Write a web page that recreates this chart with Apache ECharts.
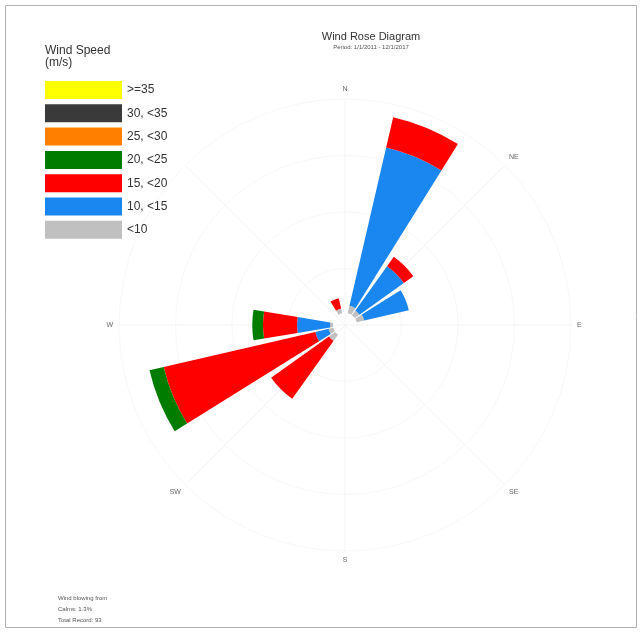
<!DOCTYPE html>
<html>
<head>
<meta charset="utf-8">
<title>Wind Rose Diagram</title>
<script src="https://cdn.jsdelivr.net/npm/echarts@6/dist/echarts.min.js"></script>
<style>
    html, body { margin: 0; padding: 0; background: #fff; }
    #chart { width: 642px; height: 635px; }
</style>
</head>
<body>
<div id="chart"></div>
<script>
// 16 directions, clockwise from north
var directions = ['N', 'NNE', 'NE', 'ENE', 'E', 'ESE', 'SE', 'SSE', 'S', 'SSW', 'SW', 'WSW', 'W', 'WNW', 'NW', 'NNW'];
// speed classes, inner to outer
var speedBins = ['<10', '10, <15', '15, <20', '20, <25', '25, <30', '30, <35', '>=35'];
var binColors = ['#c0c0c0', '#1a86f0', '#ff0000', '#007d00', '#ff8000', '#3a3a3a', '#ffff00'];
// frequency (%) per direction for each speed class
var speedLt10 = [0, 0.8, 0.6, 0.8, 0, 0, 0, 0, 0, 0, 0.8, 0.5, 0.3, 0, 0, 0.5];
var speed10to15 = [0, 16.7, 5.6, 4.7, 0, 0, 0, 0, 0, 0, 0, 1.4, 3.4, 0, 0, 0];
var speed15to20 = [0, 3.2, 1.2, 0, 0, 0, 0, 0, 0, 0, 7.3, 16.0, 3.5, 0, 0, 1.1];
var speed20to25 = [0, 0, 0, 0, 0, 0, 0, 0, 0, 0, 0, 1.5, 1.1, 0, 0, 0];
var speed25to30 = [0, 0, 0, 0, 0, 0, 0, 0, 0, 0, 0, 0, 0, 0, 0, 0];
var speed30to35 = [0, 0, 0, 0, 0, 0, 0, 0, 0, 0, 0, 0, 0, 0, 0, 0];
var speedGe35 = [0, 0, 0, 0, 0, 0, 0, 0, 0, 0, 0, 0, 0, 0, 0, 0];
var binData = [speedLt10, speed10to15, speed15to20, speed20to25, speed25to30, speed30to35, speedGe35];
// compass labels drawn round the rose (NW sits under the legend in the original)
var compassLabels = ['N', 'NE', 'E', 'SE', 'S', 'SW', 'W'];

var infoLines = ['Wind blowing from', 'Calms: 1.3%', 'Total Record: 93'];

var myChart = echarts.init(document.getElementById('chart'));

var series = [];
for (var i = 0; i < speedBins.length; i++) {
    series.push({
        name: speedBins[i],
        type: 'bar',
        coordinateSystem: 'polar',
        polarIndex: 0,
        stack: 'wind',
        barCategoryGap: '16%',
        itemStyle: { color: binColors[i] },
        data: binData[i],
        z: 5
    });
}
// empty series so the grid polar gets drawn
series.push({ type: 'scatter', coordinateSystem: 'polar', polarIndex: 1, data: [], silent: true });

// legend shows highest class first
var legendData = speedBins.slice().reverse();

var option = {
    backgroundColor: '#fff',
    animation: false,
    title: [{
        text: 'Wind Rose Diagram',
        subtext: 'Period: 1/1/2011 - 12/1/2017',
        left: 366,
        top: 26,
        textAlign: 'center',
        itemGap: 2,
        textStyle: { fontSize: 11, fontWeight: 'normal', color: '#333', fontFamily: 'Liberation Sans' },
        subtextStyle: { fontSize: 6, color: '#555', fontFamily: 'Liberation Sans' }
    }, {
        text: 'Wind Speed\n(m/s)',
        left: 40,
        top: 40,
        textStyle: { fontSize: 12, fontWeight: 'normal', color: '#333', lineHeight: 12, fontFamily: 'Liberation Sans' }
    }, {
        text: infoLines.join('\n'),
        left: 53,
        top: 588,
        textStyle: { fontSize: 6, fontWeight: 'normal', color: '#555', lineHeight: 11, fontFamily: 'Liberation Sans' }
    }],
    legend: {
        data: legendData,
        orient: 'vertical',
        left: 40,
        top: 76,
        icon: 'rect',
        itemWidth: 77,
        itemHeight: 18,
        itemGap: 5.3,
        selectedMode: false,
        textStyle: { fontSize: 12, color: '#333', fontFamily: 'Liberation Sans' }
    },
    polar: [
        { center: [345, 325], radius: [12, 226] },
        { center: [345, 325], radius: [0, 226] }
    ],
    angleAxis: [{
        polarIndex: 0,
        type: 'category',
        data: directions,
        startAngle: 101.25,
        clockwise: true,
        axisLine: { show: false },
        axisTick: { show: false },
        splitLine: { show: false },
        axisLabel: {
            interval: 0,
            margin: 6,
            fontSize: 7,
            color: '#666',
            formatter: function (value) {
                return compassLabels.indexOf(value) > -1 ? value : '';
            }
        }
    }, {
        polarIndex: 1,
        type: 'value',
        min: 0,
        max: 360,
        interval: 45,
        startAngle: 90,
        clockwise: true,
        axisLine: { show: false },
        axisTick: { show: false },
        axisLabel: { show: false },
        splitLine: { show: true, lineStyle: { color: '#f4f4f4', width: 1 } }
    }],
    radiusAxis: [{
        polarIndex: 0,
        min: 0,
        max: 22,
        axisLine: { show: false },
        axisTick: { show: false },
        axisLabel: { show: false },
        splitLine: { show: false }
    }, {
        polarIndex: 1,
        min: 0,
        max: 4,
        interval: 1,
        axisLine: { show: false },
        axisTick: { show: false },
        axisLabel: { show: false },
        splitLine: { show: true, lineStyle: { color: '#f8f8f8', width: 1 } }
    }],
    graphic: [{
        type: 'rect',
        shape: { x: 5.5, y: 5.5, width: 631, height: 622 },
        style: { fill: 'none', stroke: '#b0b0b0', lineWidth: 1 },
        silent: true
    }],
    series: series
};

myChart.setOption(option);
</script>
</body>
</html>
